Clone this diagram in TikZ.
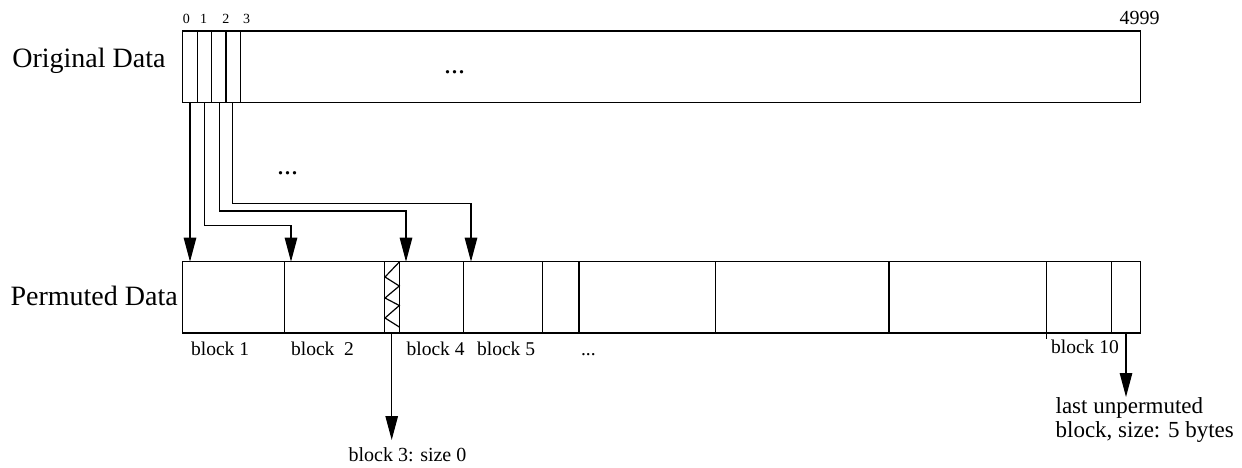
\documentclass[tikz,border=0pt]{standalone}
\usepackage{fontspec}
\setmainfont{Liberation Serif}
\usetikzlibrary{arrows.meta}
\begin{document}
\begin{tikzpicture}[x=1pt,y=-1pt,line width=1.2pt,
  lbl/.style={inner sep=0pt,anchor=base west},
  big/.style={lbl,font=\fontsize{28}{30}\selectfont},
  mid/.style={lbl,font=\fontsize{23}{24}\selectfont},
  small/.style={lbl,font=\fontsize{19.5}{22}\selectfont},
  tiny/.style={lbl,font=\fontsize{14}{16}\selectfont},
  arr/.style={-{Triangle[length=24pt,width=12.5pt]}},
  box/.style={draw,inner sep=0pt,outer sep=0pt,anchor=north west}]
\useasboundingbox (0,0) rectangle (1242,468);
% rectangles
\node[box,minimum width=958pt,minimum height=71.7pt] (orig) at (182.7,31) {};
\node[box,minimum width=958pt,minimum height=71.3pt] (perm) at (182.7,261.7) {};
% top dividers
\foreach \x in {197.1,211.5,225.9,240.3}
  \draw (\x,0 |- orig.north) -- (\x,0 |- orig.south);
% bottom dividers
\foreach \x in {284.3,384.6,399.3,463.3,542.7,579,715.7,889,1111.7}
  \draw (\x,0 |- perm.north) -- (\x,0 |- perm.south);
\coordinate (tick10) at (1046.7,339);
\draw (tick10 |- perm.north) -- (tick10);
% zigzag in block 3
\draw (399.3,262) -- (385,277) -- (399.3,286) -- (385,298) -- (399.3,305.5) -- (385,318) -- (399.3,327);
% labels
\node[big] (lorig) at (11.7,68) {Original Data};
\node[big] (lperm) at (10,305) {Permuted Data};
\node[tiny] (n0) at (182.2,23.3) {0};
\node[tiny] (n1) at (199.4,23.3) {1};
\node[tiny] (n2) at (221.8,23.3) {2};
\node[tiny] (n3) at (242.4,23.3) {3};
\node[lbl,font=\fontsize{20}{22}\selectfont] (n4999) at (1119,24.5) {4999};
\node[big] (dotsA) at (443.5,74) {...};
\node[big] (dotsB) at (276.5,175) {...};
\node[small] (bl1) at (190.5,355) {block 1};
\node[small] (bl2) at (290.5,355) {block\ \ 2};
\node[small] (bl4) at (406,355) {block 4};
\node[small] (bl5) at (476.5,355) {block 5};
\node[small] (dotsC) at (580.5,355) {...};
\node[small] (bl10) at (1050.5,353.3) {block 10};
\node[lbl,font=\fontsize{20}{22}\selectfont] (bl3) at (348,461.7) {block 3: size 0};
\node[mid] (lastA) at (1055,413) {last unpermuted};
\node[mid] (lastB) at (1055,437) {block, size: 5 bytes};
% arrows from original to permuted
\coordinate (s0) at (190,0 |- orig.south);
\coordinate (s1) at (204.3,0 |- orig.south);
\coordinate (s2) at (219.3,0 |- orig.south);
\coordinate (s3) at (232.7,0 |- orig.south);
\coordinate (t0) at (190,0 |- perm.north);
\coordinate (t1) at (291,0 |- perm.north);
\coordinate (t2) at (406,0 |- perm.north);
\coordinate (t3) at (471,0 |- perm.north);
\draw[arr] (s0) -- (t0);
\draw[arr] (s1) |- (t1 |- 0,225.7) -- (t1);
\draw[arr] (s2) |- (t2 |- 0,211) -- (t2);
\draw[arr] (s3) |- (t3 |- 0,203.3) -- (t3);
% bottom arrows
\coordinate (b3s) at (391.7,0 |- perm.south);
\coordinate (b3e) at (391.7,440);
\draw[arr] (b3s) -- (b3e);
\coordinate (lbs) at (1126,0 |- perm.south);
\coordinate (lbe) at (1126,397);
\draw[arr] (lbs) -- (lbe);
\end{tikzpicture}
\end{document}
